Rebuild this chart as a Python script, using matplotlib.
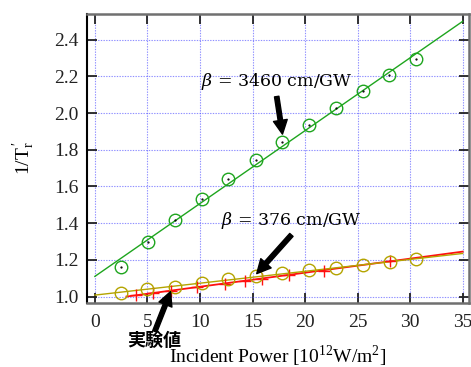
import matplotlib.pyplot as plt
import numpy as np

plt.rcParams["font.family"] = ["Liberation Serif", "DejaVu Serif"]
plt.rcParams["mathtext.fontset"] = "dejavuserif"

# measured points
x_green = [2.5, 5.1, 7.6, 10.2, 12.7, 15.3, 17.8, 20.4, 22.9, 25.5, 28.0, 30.6]
y_green = [1.16, 1.296, 1.42, 1.53, 1.64, 1.744, 1.842, 1.936, 2.028, 2.12, 2.21, 2.293]

x_olive = [2.5, 5.0, 7.6, 10.2, 12.7, 15.3, 17.8, 20.4, 22.9, 25.5, 28.1, 30.6]
y_olive = [1.018, 1.04, 1.054, 1.073, 1.095, 1.113, 1.127, 1.145, 1.158, 1.174, 1.189, 1.207]

x_red = [3.9, 5.5, 7.2, 9.7, 12.4, 14.3, 15.9, 18.5, 21.8, 28.1]
y_red = [1.009, 1.019, 1.032, 1.051, 1.066, 1.083, 1.095, 1.115, 1.14, 1.193]

# fitted lines: (x start, x end, y start, y end)
fit_green = (0.0, 35.0, 1.11, 2.50)
fit_olive = (0.0, 35.0, 1.008, 1.235)
fit_red = (3.0, 35.0, 1.0, 1.245)

xticks = [0, 5, 10, 15, 20, 25, 30, 35]
yticks = [1.0, 1.2, 1.4, 1.6, 1.8, 2.0, 2.2, 2.4]

green = "#1ea51e"
olive = "#b4a400"
red = "#ff1010"

fig = plt.figure(figsize=(4.71, 3.67), dpi=100)
ax = fig.add_axes([0.1847, 0.1744, 0.8111, 0.7875])

ax.grid(True, color="#4444ff", linestyle=(0, (1.2, 1.2)), linewidth=0.8, alpha=0.6)
ax.set_axisbelow(True)


def fit_line(fit, color, lw):
    x0, x1, y0, y1 = fit
    ax.plot([x0, x1], [y0, y1], color=color, lw=lw, zorder=2)


fit_line(fit_green, green, 1.0)
fit_line(fit_red, red, 1.3)
fit_line(fit_olive, olive, 1.0)

ax.plot(x_red, y_red, "+", color=red, ms=9, mew=1.0, zorder=3)
ax.plot(x_olive, y_olive, "o", mfc="none", mec=olive, ms=9, mew=1.0, zorder=3)
ax.plot(x_green, y_green, "o", mfc="none", mec=green, ms=9, mew=1.0, zorder=3)
ax.plot(x_green, y_green, ".", color="black", ms=1.2, zorder=4)

ax.set_xlim(-0.75, 35.6)
ax.set_ylim(0.965, 2.54)
ax.set_xticks(xticks)
ax.set_yticks(yticks)
ax.set_yticklabels([f"{v:.1f}" for v in yticks])
ax.tick_params(direction="in", length=7, width=1.3, labelsize=14,
               top=True, right=True, colors="#222222")
ax.tick_params(axis="x", pad=8)
ax.tick_params(axis="y", pad=6)
for side in ["top", "right", "bottom"]:
    ax.spines[side].set_color("#707070")
    ax.spines[side].set_linewidth(1.8)
ax.spines["left"].set_color("black")
ax.spines["left"].set_linewidth(1.5)

ax.set_xlabel(r"Incident Power [10$^{\mathregular{12}}$W/m$^{\mathregular{2}}$]",
              fontsize=14)
ax.set_ylabel(r"$\mathregular{1/T_r^{\,\prime}}$", fontsize=14, labelpad=12)
ax.xaxis.set_label_coords(0.5, -0.14)

arrow = dict(facecolor="black", edgecolor="black", width=3.2, headwidth=10,
             headlength=10, shrink=0)
ax.text(17.3, 2.17, r"$\beta$ = 3460 cm/GW", fontsize=12.5,
        family="DejaVu Serif", ha="center", va="center")
ax.annotate("", xy=(17.85, 1.885), xytext=(17.3, 2.09), arrowprops=arrow)
ax.text(18.7, 1.415, r"$\beta$ = 376 cm/GW", fontsize=12.5,
        family="DejaVu Serif", ha="center", va="center")
ax.annotate("", xy=(15.4, 1.125), xytext=(18.7, 1.336), arrowprops=arrow)
ax.annotate("", xy=(7.2, 1.027), xytext=(5.7, 0.81),
            annotation_clip=False, arrowprops=arrow)
ax.text(5.6, 0.762, "実験値", fontsize=13, fontweight="bold",
        family=["Noto Sans CJK JP"], ha="center", va="center")

fig.savefig("out.png", dpi=100)
